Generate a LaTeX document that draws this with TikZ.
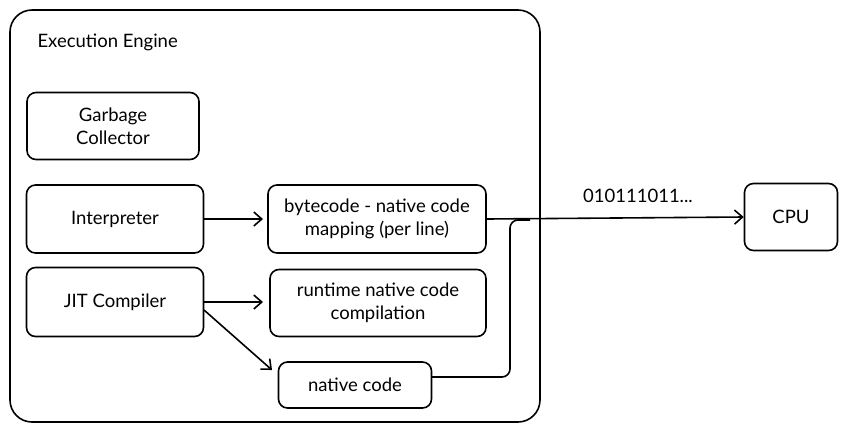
\documentclass[tikz,border=0pt]{standalone}
\usepackage{fontspec}
\setmainfont{Lato}
\usetikzlibrary{arrows.meta}

\begin{document}
\begin{tikzpicture}[x=1pt, y=-1pt,
    box/.style={draw, line width=1.6pt, rounded corners=9pt, align=center, inner sep=0pt,
                font=\fontsize{18.5}{23}\selectfont},
    flow/.style={line width=1.6pt, -{Straight Barb[length=8pt,width=14pt]}}]
    \useasboundingbox (0,0) rectangle (856,432);
    % outer engine frame
    \node[box, minimum width=530pt, minimum height=412pt, rounded corners=22pt] (engine) at (275,216) {};
    \node[anchor=west, font=\fontsize{18.5}{23}\selectfont] (title) at (34,42) {Execution Engine};
    % inner components
    \node[box, minimum width=172pt, minimum height=67pt] (gc)     at (113,126) {Garbage\\Collector};
    \node[box, minimum width=177pt, minimum height=68pt] (interp) at (115,219) {Interpreter};
    \node[box, minimum width=177pt, minimum height=69pt] (jit)    at (115,302) {JIT Compiler};
    \node[box, minimum width=218pt, minimum height=68pt] (map)    at (377,219) {bytecode - native code\\mapping (per line)};
    \node[box, minimum width=216pt, minimum height=67pt] (rt)     at (378,303) {runtime native code\\compilation};
    \node[box, minimum width=153pt, minimum height=46pt] (native) at (355,385) {native code};
    \node[box, minimum width=93pt,  minimum height=67pt] (cpu)    at (791,217) {CPU};
    \coordinate (out) at (432,377);
    % connectors
    \draw[flow] (interp.east) -- (263,219);
    \draw[flow] (jit.east) -- (263,302);
    \draw[flow] (204,310) -- (272,370);
    \draw[flow] (map.east) -- (cpu.west);
    \draw[line width=1.6pt, rounded corners=8pt] (out) -- (510,377) -- (510,220) -- (530,220);
    \node[font=\fontsize{18.5}{23}\selectfont] (bits) at (638,196) {010111011...};
\end{tikzpicture}
\end{document}
